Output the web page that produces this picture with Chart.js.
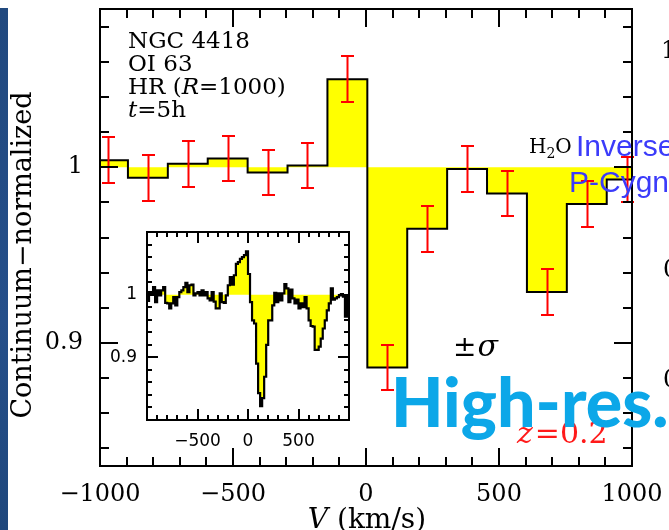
<!DOCTYPE html>
<html lang="en">
<head>
<meta charset="UTF-8">
<title>NGC 4418 OI 63 — HR (R=1000)</title>
<script src="https://cdn.jsdelivr.net/npm/chart.js"></script>
<style>
  body { margin: 0; background: #fff; }
  #wrap { position: relative; width: 669px; height: 530px; overflow: hidden; background: #fff; }
  #main { position: absolute; left: 0; top: 0; }
  #inset { position: absolute; left: 100px; top: 222px; }
  /* dark slide edge on the left */
  #strip { position: absolute; left: 0; top: 8px; width: 8px; height: 522px;
           background: linear-gradient(#21497f, #254f8a 60%, #1f477c); }
</style>
</head>
<body>
<div id="wrap">
  <canvas id="main" width="669" height="530"></canvas>
  <canvas id="inset" width="255" height="235"></canvas>
  <div id="strip"></div>
</div>

<script>
// binned spectrum (R=1000), km/s and continuum-normalized flux
const binCenters = [-970, -820, -670, -520, -370, -220, -70, 80, 230, 380, 530, 680, 830, 980];
const binWidth = 150;
const binFlux = [1.004, 0.994, 1.002, 1.005, 0.997, 1.001, 1.050, 0.886, 0.965, 0.999, 0.985, 0.929, 0.979, 0.993];
const binSigma = [0.013, 0.013, 0.013, 0.013, 0.013, 0.013, 0.013, 0.013, 0.013, 0.013, 0.013, 0.013, 0.013, 0.013];

// original high resolution profile for the inset, 20 km/s bins from -1000
const hiresStart = -1000;
const hiresStep = 20;
const hiresFlux = [
  0.990, 1.004, 1.003, 1.012, 0.988, 1.007, 0.999, 1.007, 1.012, 0.987,
  0.986, 0.978, 0.986, 0.996, 0.983, 0.996, 1.004, 1.007, 1.012, 1.019,
  1.004, 1.015, 1.016, 0.999, 1.002, 1.004, 0.999, 1.007, 0.999, 1.004,
  0.994, 0.991, 1.004, 0.989, 0.978, 0.978, 1.002, 0.988, 0.987, 0.999,
  1.015, 1.028, 1.016, 1.031, 1.049, 1.052, 1.057, 1.060, 1.063, 1.069,
  1.033, 0.988, 0.959, 0.954, 0.890, 0.843, 0.822, 0.835, 0.869, 0.920,
  0.959, 0.959, 0.983, 1.003, 0.988, 1.002, 0.991, 1.002, 1.017, 1.010,
  0.988, 1.008, 0.994, 0.986, 0.992, 0.978, 0.986, 0.980, 0.996, 0.978,
  0.959, 0.950, 0.949, 0.912, 0.912, 0.917, 0.930, 0.946, 0.959, 0.975,
  0.986, 1.010, 0.992, 0.994, 0.996, 0.999, 1.001, 0.997, 0.965, 0.999
];

const xTickValues = [-1000, -500, 0, 500, 1000];
const insetXLabels = [-500, 0, 500];
const yTickLabels = [0.9, 1];

const SERIF = '"DejaVu Serif", "Liberation Serif", serif';
const INSET_FONT = '"DejaVu Sans", Arial, sans-serif';

// step points: one point per left bin edge, plus the closing right edge
function stepPoints(edges, vals) {
  return edges.map((e, i) => ({ x: e, y: vals[Math.min(i, vals.length - 1)] }));
}
const mainEdges = binCenters.map(c => c - binWidth / 2)
  .concat([binCenters[binCenters.length - 1] + binWidth / 2]);
const hiresEdges = hiresFlux.map((_, i) => hiresStart + i * hiresStep)
  .concat([hiresStart + hiresFlux.length * hiresStep]);

function fmtMinus(v) { return v < 0 ? '\u2212' + Math.abs(v) : String(v); }

// inward ticks on all four sides plus the box
const frameTicks = {
  id: 'frameTicks',
  afterDatasetsDraw(chart, args, o) {
    const { ctx, chartArea: a, scales: { x, y } } = chart;
    ctx.save();
    ctx.strokeStyle = '#000';
    ctx.lineWidth = o.lw;
    ctx.beginPath();
    const x0 = Math.ceil(x.min / o.xMinor - 1e-9);
    for (let k = x0; k * o.xMinor <= x.max + 1e-9; k++) {
      const v = k * o.xMinor;
      const px = Math.round(x.getPixelForValue(v));
      const len = Math.abs(v / o.xMajor - Math.round(v / o.xMajor)) < 1e-6 ? o.major : o.minor;
      ctx.moveTo(px, a.bottom); ctx.lineTo(px, a.bottom - len);
      ctx.moveTo(px, a.top); ctx.lineTo(px, a.top + len);
    }
    const y0 = Math.ceil(y.min / o.yMinor - 1e-9);
    for (let k = y0; k * o.yMinor <= y.max + 1e-9; k++) {
      const v = k * o.yMinor;
      const py = Math.round(y.getPixelForValue(v));
      const len = Math.abs(v / o.yMajor - Math.round(v / o.yMajor)) < 1e-6 ? o.major : o.minor;
      ctx.moveTo(a.left, py); ctx.lineTo(a.left + len, py);
      ctx.moveTo(a.right, py); ctx.lineTo(a.right - len, py);
    }
    ctx.stroke();
    ctx.strokeRect(a.left, a.top, a.width, a.height);
    ctx.restore();
  }
};

// red ±sigma bars at each bin centre
const errorBars = {
  id: 'errorBars',
  afterDatasetsDraw(chart, args, o) {
    const { ctx, chartArea: a, scales: { x, y } } = chart;
    ctx.save();
    ctx.beginPath();
    ctx.rect(a.left - 8, a.top, a.width + 16, a.height);
    ctx.clip();
    ctx.strokeStyle = o.color;
    ctx.lineWidth = o.width;
    ctx.beginPath();
    binCenters.forEach((c, i) => {
      const px = Math.round(x.getPixelForValue(c)) + 0.5;
      const hi = Math.round(y.getPixelForValue(binFlux[i] + binSigma[i]));
      const lo = Math.round(y.getPixelForValue(binFlux[i] - binSigma[i]));
      ctx.moveTo(px, hi); ctx.lineTo(px, lo);
      ctx.moveTo(px - o.cap, hi); ctx.lineTo(px + o.cap, hi);
      ctx.moveTo(px - o.cap, lo); ctx.lineTo(px + o.cap, lo);
    });
    ctx.stroke();
    ctx.restore();
  }
};

// text runs with mixed fonts on one baseline
function runs(ctx, x, y, parts) {
  let cx = x;
  parts.forEach(p => {
    ctx.font = p.font;
    ctx.fillStyle = p.color || '#000';
    ctx.fillText(p.text, cx, y + (p.dy || 0));
    cx += ctx.measureText(p.text).width + (p.gap || 0);
  });
}

const labels = {
  id: 'labels',
  afterDraw(chart) {
    const ctx = chart.ctx;
    ctx.save();
    ctx.textBaseline = 'alphabetic';
    ctx.textAlign = 'left';

    const f23 = '23px ' + SERIF, i23 = 'italic 23px ' + SERIF;
    runs(ctx, 128, 48, [{ text: 'NGC 4418', font: f23 }]);
    runs(ctx, 128, 71, [{ text: 'OI 63', font: f23 }]);
    runs(ctx, 128, 94, [{ text: 'HR (', font: f23 }, { text: 'R', font: i23 }, { text: '=1000)', font: f23 }]);
    runs(ctx, 128, 117, [{ text: 't', font: i23 }, { text: '=5h', font: f23 }]);

    // axis titles
    ctx.save();
    ctx.translate(31, 255);
    ctx.rotate(-Math.PI / 2);
    ctx.textAlign = 'center';
    ctx.font = '27px ' + SERIF;
    ctx.fillStyle = '#000';
    ctx.fillText('Continuum\u2212normalized', 0, 0);
    ctx.restore();

    ctx.font = '28px ' + SERIF;
    const wV = ctx.measureText('V').width;
    const wRest = ctx.measureText(' (km/s)').width;
    runs(ctx, 367 - (wV + wRest) / 2, 528, [
      { text: 'V', font: 'italic 28px ' + SERIF },
      { text: ' (km/s)', font: '28px ' + SERIF }
    ]);

    // line label and note
    runs(ctx, 529, 153, [
      { text: 'H', font: '20px ' + SERIF },
      { text: '2', font: '14px ' + SERIF, dy: 5 },
      { text: 'O', font: '20px ' + SERIF }
    ]);
    runs(ctx, 453, 356, [
      { text: '\u00b1', font: '28px ' + SERIF, gap: 1 },
      { text: '\u03c3', font: 'italic 30px ' + SERIF }
    ]);

    ctx.font = '30px "Liberation Sans", Arial, sans-serif';
    ctx.fillStyle = '#3b3bfa';
    ctx.fillText('Inverse', 576, 156);
    ctx.fillText('P-Cygn', 569, 192);

    runs(ctx, 517, 443, [
      { text: 'z', font: 'italic 30px ' + SERIF, color: '#ff1a1a', gap: 2 },
      { text: '=0.2', font: '30px ' + SERIF, color: '#ff1a1a' }
    ]);

    ctx.font = '900 68px Lato, "Open Sans", sans-serif';
    ctx.fillStyle = '#0ca7e8';
    ctx.fillText('High-res.', 391, 427);

    // neighbouring panel labels cut by the edge
    ctx.font = '24px ' + SERIF;
    ctx.fillStyle = '#000';
    ctx.fillText('1', 661, 58);
    ctx.fillText('0', 663, 277);
    ctx.fillText('0', 663, 387);
    ctx.restore();
  }
};

const whiteArea = {
  id: 'whiteArea',
  beforeDraw(chart) {
    const { ctx, chartArea: a } = chart;
    ctx.save();
    ctx.fillStyle = '#fff';
    ctx.fillRect(a.left, a.top, a.width, a.height);
    ctx.restore();
  }
};

function fixedSize(w, h) {
  return s => {
    if (w !== null) s.width = w;
    if (h !== null) s.height = h;
    s.paddingTop = 0; s.paddingBottom = 0; s.paddingLeft = 0; s.paddingRight = 0;
  };
}

// main binned spectrum
new Chart(document.getElementById('main'), {
  type: 'line',
  data: {
    datasets: [{
      data: stepPoints(mainEdges, binFlux),
      stepped: 'before',
      borderColor: '#000',
      borderWidth: 2,
      backgroundColor: '#ffff00',
      fill: { value: 1 },
      pointRadius: 0,
      tension: 0
    }]
  },
  options: {
    responsive: false,
    animation: false,
    devicePixelRatio: 1,
    layout: { padding: { left: 0, top: 9, right: 37, bottom: 0 } },
    plugins: {
      legend: { display: false },
      tooltip: { enabled: false },
      errorBars: { color: '#ff0000', width: 2, cap: 6.5 },
      frameTicks: { lw: 2, xMinor: 100, xMajor: 500, yMinor: 0.02, yMajor: 0.1, minor: 9, major: 18 }
    },
    scales: {
      x: {
        type: 'linear', min: -1000, max: 1000,
        afterFit: fixedSize(null, 64),
        afterBuildTicks: s => { s.ticks = xTickValues.map(v => ({ value: v })); },
        grid: { drawOnChartArea: false, drawTicks: false },
        border: { display: false },
        ticks: {
          autoSkip: false, maxRotation: 0, padding: 14, color: '#000',
          font: { family: SERIF, size: 24 },
          callback: v => fmtMinus(v)
        }
      },
      y: {
        type: 'linear', min: 0.83, max: 1.09,
        afterFit: fixedSize(100, null),
        afterBuildTicks: s => { s.ticks = yTickLabels.map(v => ({ value: v })); },
        grid: { drawOnChartArea: false, drawTicks: false },
        border: { display: false },
        ticks: {
          autoSkip: false, padding: 17, color: '#000',
          font: { family: SERIF, size: 24 },
          callback: v => String(v)
        }
      }
    }
  },
  plugins: [errorBars, frameTicks, labels]
});

// inset: full resolution profile
new Chart(document.getElementById('inset'), {
  type: 'line',
  data: {
    datasets: [{
      data: stepPoints(hiresEdges, hiresFlux),
      stepped: 'before',
      borderColor: '#000',
      borderWidth: 2.2,
      backgroundColor: '#ffff00',
      fill: { value: 1 },
      pointRadius: 0,
      tension: 0
    }]
  },
  options: {
    responsive: false,
    animation: false,
    devicePixelRatio: 1,
    layout: { padding: { left: 0, top: 10, right: 6, bottom: 0 } },
    plugins: {
      legend: { display: false },
      tooltip: { enabled: false },
      frameTicks: { lw: 2, xMinor: 100, xMajor: 500, yMinor: 0.02, yMajor: 0.1, minor: 5, major: 11 }
    },
    scales: {
      x: {
        type: 'linear', min: -1000, max: 1000,
        afterFit: fixedSize(null, 37),
        afterBuildTicks: s => { s.ticks = insetXLabels.map(v => ({ value: v })); },
        grid: { drawOnChartArea: false, drawTicks: false },
        border: { display: false },
        ticks: {
          autoSkip: false, maxRotation: 0, padding: 11, color: '#000',
          font: { family: INSET_FONT, size: 17 },
          callback: v => fmtMinus(v)
        }
      },
      y: {
        type: 'linear', min: 0.8, max: 1.1,
        afterFit: fixedSize(47, null),
        afterBuildTicks: s => { s.ticks = yTickLabels.map(v => ({ value: v })); },
        grid: { drawOnChartArea: false, drawTicks: false },
        border: { display: false },
        ticks: {
          autoSkip: false, padding: 10, color: '#000',
          font: { family: INSET_FONT, size: 17 },
          callback: v => String(v)
        }
      }
    }
  },
  plugins: [whiteArea, frameTicks]
});
</script>
</body>
</html>
